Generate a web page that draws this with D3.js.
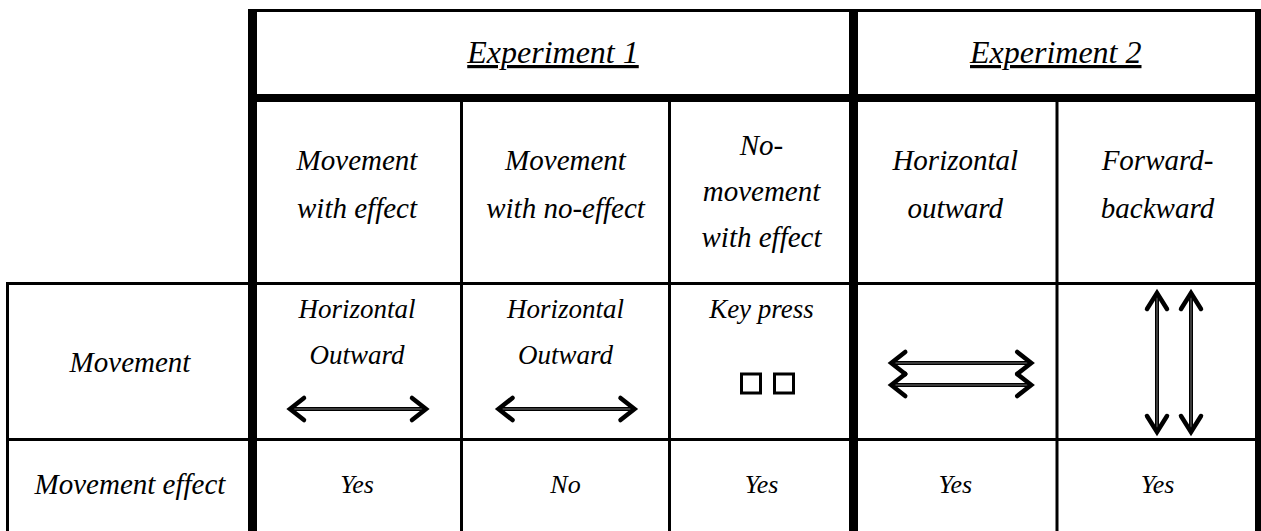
<!DOCTYPE html>
<html><head><meta charset="utf-8">
<script src="https://cdn.jsdelivr.net/npm/d3@7"></script>
<style>
html,body{margin:0;padding:0;background:#fff;}
svg{display:block;}
text{font-family:"Liberation Serif","Times New Roman",Times,"DejaVu Serif",serif;font-style:italic;fill:#000;}
</style></head>
<body>
<script>
// ---- data ----
const groups = ["Experiment 1", "Experiment 2"];
const groupSpans = [[0, 3], [3, 5]];
const conditions = [
  ["Movement", "with effect"],
  ["Movement", "with no-effect"],
  ["No-", "movement", "with effect"],
  ["Horizontal", "outward"],
  ["Forward-", "backward"]
];
const rowLabels = ["Movement", "Movement effect"];
const movementText = [["Horizontal", "Outward"], ["Horizontal", "Outward"], ["Key press"], [], []];
const movementIcon = ["hArrow", "hArrow", "keys", "hArrow2", "vArrow2"];
const effects = ["Yes", "No", "Yes", "Yes", "Yes"];

// ---- layout ----
const W = 1261, H = 531;
const colEdges = [252.5, 461.5, 669.5, 853.5, 1057, 1258];
const labelLeft = 7.5;
const rowEdges = [10.5, 98, 283.5, 439.5, 560];

const x = d3.scaleOrdinal().domain(d3.range(colEdges.length)).range(colEdges);
const y = d3.scaleOrdinal().domain(d3.range(rowEdges.length)).range(rowEdges);
const cx = i => (x(i) + x(i + 1)) / 2;

const svg = d3.select("body").append("svg").attr("width", W).attr("height", H);

// ---- grid lines ----
const lines = [
  {x1: 248, y1: y(0), x2: 1261, y2: y(0), w: 3},
  {x1: 248, y1: y(1), x2: 1261, y2: y(1), w: 8},
  {x1: 6, y1: y(2), x2: 1261, y2: y(2), w: 3},
  {x1: 6, y1: y(3), x2: 1261, y2: y(3), w: 3},
  {x1: labelLeft, y1: 282, x2: labelLeft, y2: H, w: 3},
  {x1: x(0), y1: 9, x2: x(0), y2: H, w: 9},
  {x1: x(1), y1: y(1), x2: x(1), y2: H, w: 3},
  {x1: x(2), y1: y(1), x2: x(2), y2: H, w: 3},
  {x1: x(3), y1: 9, x2: x(3), y2: H, w: 9},
  {x1: x(4), y1: y(1), x2: x(4), y2: H, w: 3},
  {x1: 1258, y1: 9, x2: 1258, y2: H, w: 6}
];
svg.append("g").selectAll("line").data(lines).join("line")
  .attr("x1", d => d.x1).attr("y1", d => d.y1).attr("x2", d => d.x2).attr("y2", d => d.y2)
  .attr("stroke", "#000").attr("stroke-width", d => d.w);

// ---- header ----
groups.forEach((g, i) => {
  const [a, b] = groupSpans[i];
  const mx = (x(a) + x(b)) / 2;
  svg.append("text").attr("x", mx).attr("y", 63).attr("text-anchor", "middle")
    .attr("font-size", 32).attr("text-decoration", "underline").text(g);
});

// ---- conditions ----
conditions.forEach((lns, i) => {
  const base = lns.length === 3 ? [155, 201, 247] : [170, 218];
  const t = svg.append("text").attr("text-anchor", "middle").attr("font-size", 29);
  lns.forEach((l, k) => t.append("tspan").attr("x", cx(i)).attr("y", base[k]).text(l));
});

// ---- row labels ----
const lx = (labelLeft + x(0)) / 2;
svg.append("text").attr("x", lx).attr("y", 372).attr("text-anchor", "middle")
  .attr("font-size", 29).text(rowLabels[0]);
svg.append("text").attr("x", lx).attr("y", 494).attr("text-anchor", "middle")
  .attr("font-size", 29).text(rowLabels[1]);

// ---- movement row ----
movementText.forEach((lns, i) => {
  const t = svg.append("text").attr("text-anchor", "middle").attr("font-size", 27);
  lns.forEach((l, k) => t.append("tspan").attr("x", cx(i)).attr("y", 318 + k * 46).text(l));
});

function head(g, pts) {
  g.append("polyline").attr("points", pts.map(p => p.join(",")).join(" "))
    .attr("fill", "none").attr("stroke", "#000").attr("stroke-width", 4.5)
    .attr("stroke-linecap", "round").attr("stroke-linejoin", "miter");
}
function shaft(g, x1, y1, x2, y2) {
  g.append("line").attr("x1", x1).attr("y1", y1).attr("x2", x2).attr("y2", y2)
    .attr("stroke", "#000").attr("stroke-width", 4);
  g.append("line").attr("x1", x1).attr("y1", y1).attr("x2", x2).attr("y2", y2)
    .attr("stroke", "#777").attr("stroke-width", 1);
}
function hArrow(g, x1, x2, yy) {
  shaft(g, x1 + 3, yy, x2 - 3, yy);
  head(g, [[x1 + 15, yy - 11], [x1 + 1, yy], [x1 + 15, yy + 11]]);
  head(g, [[x2 - 15, yy - 11], [x2 - 1, yy], [x2 - 15, yy + 11]]);
}
function vArrow(g, xx, y1, y2) {
  shaft(g, xx, y1 + 3, xx, y2 - 3);
  head(g, [[xx - 10, y1 + 17], [xx, y1 + 1], [xx + 10, y1 + 17]]);
  head(g, [[xx - 10, y2 - 17], [xx, y2 - 1], [xx + 10, y2 - 17]]);
}

const ig = svg.append("g");
movementIcon.forEach((ic, i) => {
  const c = cx(i);
  if (ic === "hArrow") hArrow(ig, c - 68, c + 70, 409);
  if (ic === "keys") {
    [-20, 13].forEach(dx => {
      ig.append("rect").attr("x", c + dx).attr("y", 374).attr("width", 19).attr("height", 19)
        .attr("fill", "none").attr("stroke", "#000").attr("stroke-width", 3);
    });
  }
  if (ic === "hArrow2") {
    hArrow(ig, c - 65, c + 77, 363);
    hArrow(ig, c - 65, c + 77, 385);
  }
  if (ic === "vArrow2") {
    vArrow(ig, c - 0.5, 292, 433);
    vArrow(ig, c + 33.5, 292, 433);
  }
});

// ---- effect row ----
svg.append("g").selectAll("text").data(effects).join("text")
  .attr("x", (d, i) => cx(i)).attr("y", 493).attr("text-anchor", "middle")
  .attr("font-size", 26).text(d => d);
</script>
</body></html>
